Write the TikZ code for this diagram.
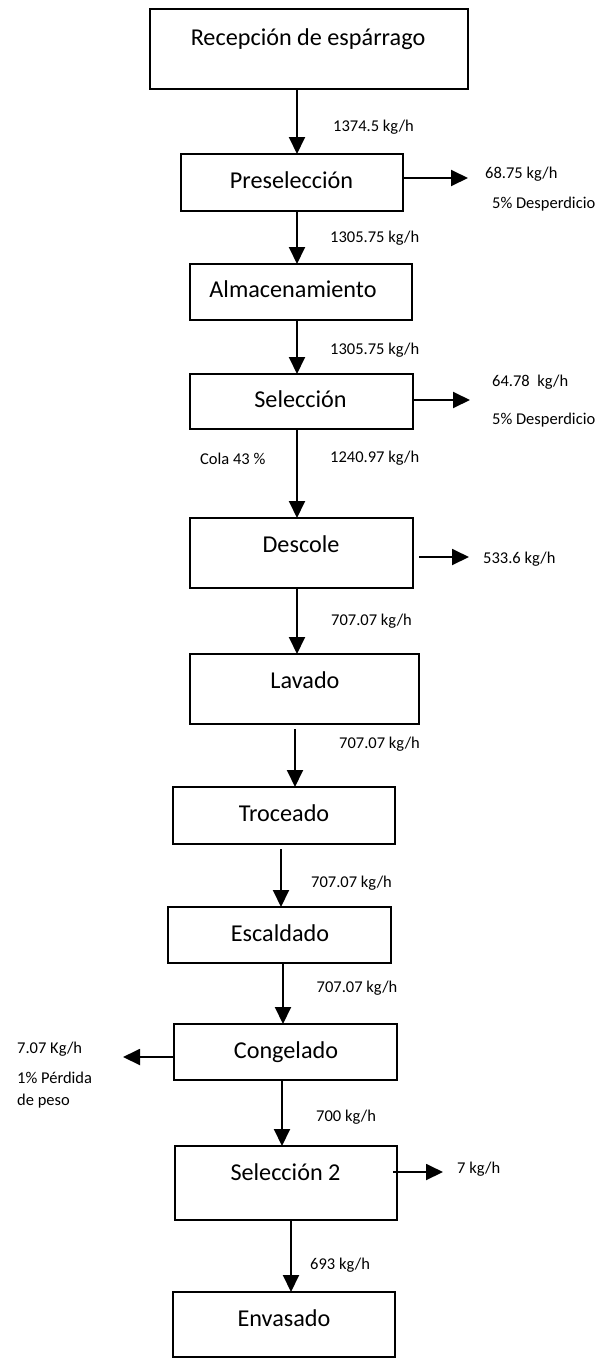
\documentclass[tikz,border=0pt]{standalone}
\usepackage{fontspec}
\setmainfont{Carlito}
\usetikzlibrary{arrows.meta}
\begin{document}
\begin{tikzpicture}[x=1pt,y=-1pt,
  box/.style={draw=black,line width=2pt,inner sep=0pt,outer sep=0pt,fill=none},
  btxt/.style={anchor=base,inner sep=0pt,font=\fontsize{24.2}{29}\selectfont},
  lbl/.style={anchor=base west,inner sep=0pt,font=\fontsize{16.5}{20}\selectfont},
  arr/.style={line width=1.9pt,-{Triangle[length=17pt,width=16pt]}}]
\useasboundingbox (0,0) rectangle (604,1360);
% boxes
\node[box,minimum width=318pt,minimum height=80pt] (b1) at (309,49) {};
\node[box,minimum width=222pt,minimum height=57pt] (b2) at (292,182.5) {};
\node[box,minimum width=222pt,minimum height=56pt] (b3) at (301,292) {};
\node[box,minimum width=223pt,minimum height=55pt] (b4) at (301.5,401.5) {};
\node[box,minimum width=223pt,minimum height=70pt] (b5) at (301.5,553) {};
\node[box,minimum width=229pt,minimum height=70pt] (b6) at (304.5,689) {};
\node[box,minimum width=222pt,minimum height=57pt] (b7) at (284,815.5) {};
\node[box,minimum width=223pt,minimum height=56pt] (b8) at (279.5,935) {};
\node[box,minimum width=223pt,minimum height=56pt] (b9) at (285.5,1052) {};
\node[box,minimum width=222pt,minimum height=74pt] (b10) at (286,1183) {};
\node[box,minimum width=222pt,minimum height=65pt] (b11) at (284,1324.5) {};
% box texts
\node[btxt] (t1) at (308,45) {Recepción de espárrago};
\node[btxt] (t2) at (291.5,188) {Preselección};
\node[btxt] (t3) at (293,297) {Almacenamiento};
\node[btxt] (t4) at (300.5,407) {Selección};
\node[btxt] (t5) at (301,552) {Descole};
\node[btxt] (t6) at (305,688) {Lavado};
\node[btxt] (t7) at (284,821) {Troceado};
\node[btxt] (t8) at (280,941) {Escaldado};
\node[btxt] (t9) at (286,1058) {Congelado};
\node[btxt] (t10) at (285.5,1180) {Selección 2};
\node[btxt] (t11) at (284,1326) {Envasado};
% arrow columns
\coordinate (ax1) at (297,0);
\coordinate (ax6) at (295,0);
\coordinate (ax7) at (281,0);
\coordinate (ax8) at (283,0);
\coordinate (ax9) at (282,0);
\coordinate (ax10) at (291,0);
% vertical connectors
\draw[arr] (b1.south -| ax1) -- (b2.north -| ax1);
\draw[arr] (b2.south -| ax1) -- (b3.north -| ax1);
\draw[arr] (b3.south -| ax1) -- (b4.north -| ax1);
\draw[arr] (b4.south -| ax1) -- (b5.north -| ax1);
\draw[arr] (b5.south -| ax1) -- (b6.north -| ax1);
\draw[arr] ([yshift=-5pt]b6.south -| ax6) -- (b7.north -| ax6);
\draw[arr] ([yshift=-5pt]b7.south -| ax7) -- (b8.north -| ax7);
\draw[arr] (b8.south -| ax8) -- (b9.north -| ax8);
\draw[arr] (b9.south -| ax9) -- (b10.north -| ax9);
\draw[arr] (b10.south -| ax10) -- (b11.north -| ax10);
% side outputs
\coordinate (e1) at (468,178);
\coordinate (e2) at (470,400);
\coordinate (e3) at (469,557);
\coordinate (e4) at (123,1057);
\coordinate (e5) at (443,1172);
\draw[arr] (b2.east |- e1) -- (e1);
\draw[arr] (b4.east |- e2) -- (e2);
\draw[arr] ([xshift=6pt]b5.east |- e3) -- (e3);
\draw[arr] (b9.west |- e4) -- (e4);
\draw[arr] ([xshift=-4pt]b10.east |- e5) -- (e5);
% labels
\node[lbl] (l1) at (333,131.5) {1374.5 kg/h};
\node[lbl] (l2) at (485,178) {68.75 kg/h};
\node[lbl] (l3) at (492,208) {5\% Desperdicio};
\node[lbl] (l4) at (330,242) {1305.75 kg/h};
\node[lbl] (l5) at (330,354) {1305.75 kg/h};
\node[lbl] (l6) at (492,386.5) {64.78\ \ kg/h};
\node[lbl] (l7) at (492,424) {5\% Desperdicio};
\node[lbl] (l8) at (200,464) {Cola 43 \%};
\node[lbl] (l9) at (330,462) {1240.97 kg/h};
\node[lbl] (l10) at (483,563) {533.6 kg/h};
\node[lbl] (l11) at (331,625) {707.07 kg/h};
\node[lbl] (l12) at (339,748) {707.07 kg/h};
\node[lbl] (l13) at (311,887) {707.07 kg/h};
\node[lbl] (l14) at (316.5,992) {707.07 kg/h};
\node[lbl] (l15) at (17,1053) {7.07 Kg/h};
\node[lbl] (l16) at (17,1083) {1\% Pérdida};
\node[lbl] (l17) at (17,1105) {de peso};
\node[lbl] (l18) at (316,1121) {700 kg/h};
\node[lbl] (l19) at (457,1173) {7 kg/h};
\node[lbl] (l20) at (310,1269) {693 kg/h};
\end{tikzpicture}
\end{document}
